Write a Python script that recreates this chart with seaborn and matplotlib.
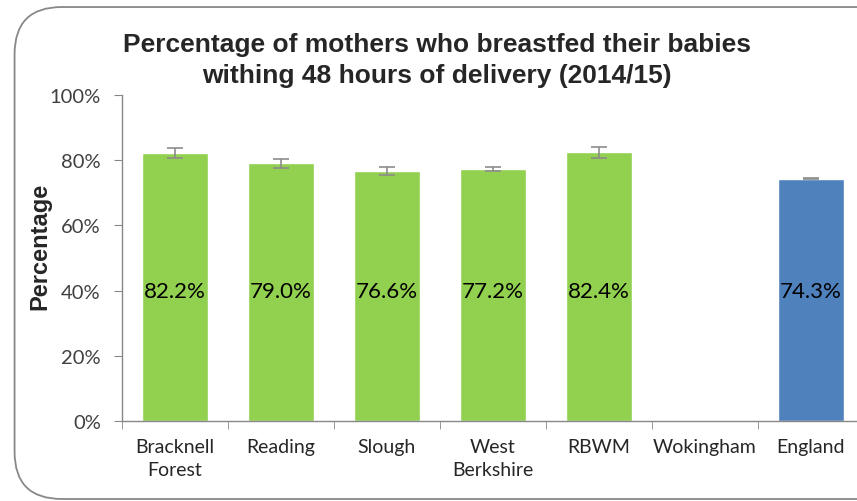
import numpy as np
import pandas as pd
import matplotlib
matplotlib.use("Agg")
import matplotlib.pyplot as plt
from matplotlib.patches import FancyBboxPatch
from matplotlib.ticker import FixedLocator, PercentFormatter
import seaborn as sns

# ==========================
# Data
# ==========================

areas = ["Bracknell\nForest", "Reading", "Slough", "West\nBerkshire", "RBWM", "Wokingham", "England"]
pct = [82.2, 79.0, 76.6, 77.2, 82.4, np.nan, 74.3]
err = [1.6, 1.5, 1.2, 0.6, 1.6, np.nan, 0.2]
bar_colors = ["#92D050"] * 6 + ["#4F81BD"]

df = pd.DataFrame({"area": areas, "pct": pct, "err": err})

# ==========================
# Plot
# ==========================

sns.set_style("white")
plt.rcParams["font.family"] = ["Lato", "DejaVu Sans"]

fig = plt.figure(figsize=(8.57, 5.02), dpi=100)
ax = fig.add_axes([0.142, 0.159, 0.866, 0.65])

sns.barplot(data=df, x="area", y="pct", hue="area", palette=bar_colors,
            legend=False, width=0.62, ax=ax, saturation=1)

x = np.arange(len(areas))
ax.errorbar(x, df["pct"], yerr=df["err"], fmt="none", ecolor="#8C8C8C",
            elinewidth=1.2, capsize=6, capthick=1.2)

for i, v in enumerate(pct):
    if not np.isnan(v):
        ax.text(i, 40, f"{v:.1f}%", ha="center", va="center", fontsize=16, color="black")

ax.set_ylim(0, 100)
ax.set_xlim(-0.5, len(areas) - 0.5)
ax.set_yticks([0, 20, 40, 60, 80, 100])
ax.yaxis.set_major_formatter(PercentFormatter(decimals=0))
ax.tick_params(axis="y", labelsize=14.5, length=6, color="#888888", direction="out",
               left=True, pad=9, labelcolor="#404040")
ax.tick_params(axis="x", which="major", labelsize=14, length=0, pad=12)
for lbl in ax.get_xticklabels():
    lbl.set_linespacing(1.45)
ax.xaxis.set_minor_locator(FixedLocator(np.arange(-0.5, len(areas), 1)))
ax.tick_params(axis="x", which="minor", length=6, color="#888888", direction="out", bottom=True)

for s in ["top", "right"]:
    ax.spines[s].set_visible(False)
for s in ["left", "bottom"]:
    ax.spines[s].set_color("#888888")
    ax.spines[s].set_linewidth(1)

ax.set_xlabel("")
ax.set_ylabel("Percentage", fontsize=17, fontweight="bold",
              family=["Liberation Sans", "DejaVu Sans"])
ax.yaxis.set_label_coords(-0.095, 0.54)

fig.suptitle("Percentage of mothers who breastfed their babies\nwithing 48 hours of delivery (2014/15)",
             x=0.51, y=0.935, fontsize=19, fontweight="bold",
             family=["Liberation Sans", "DejaVu Sans"], linespacing=1.4)

# rounded border around the chart
border = FancyBboxPatch((0.017, 0.004), 1.2, 0.98, boxstyle="round,pad=0,rounding_size=0.055",
                        transform=fig.transFigure, fill=False, edgecolor="#888888",
                        linewidth=1.3, mutation_aspect=857 / 502)
fig.patches.append(border)

fig.savefig("out.png", dpi=100)
